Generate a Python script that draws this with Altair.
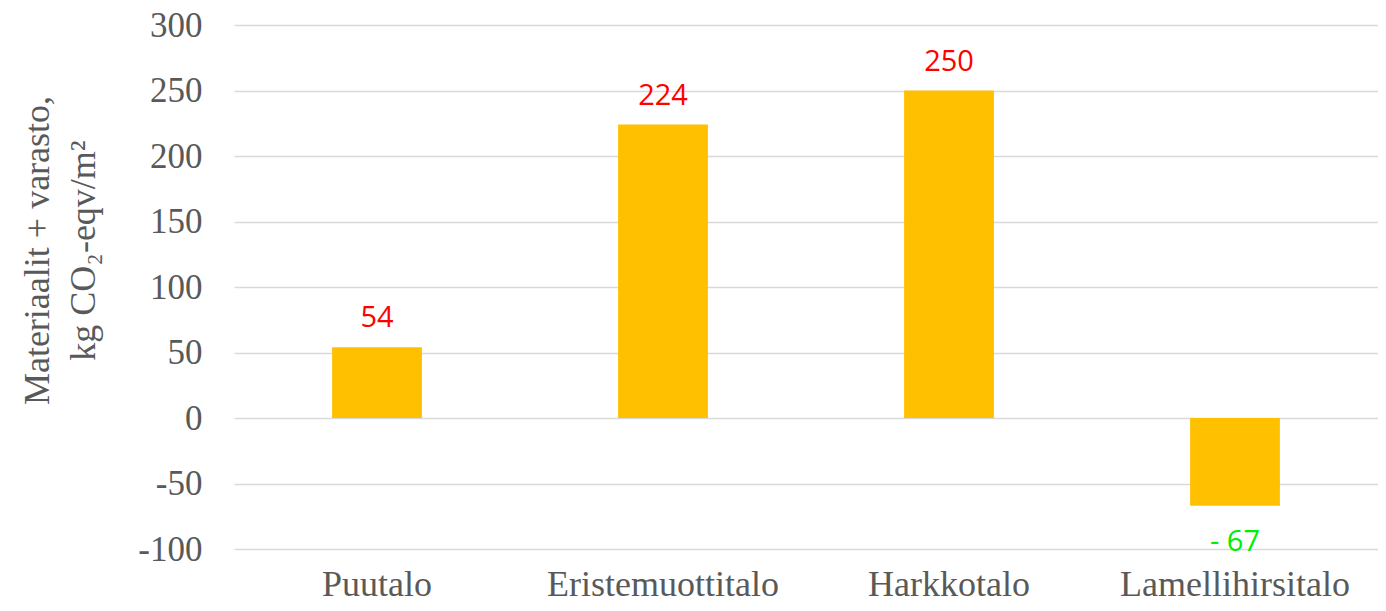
import altair as alt
import pandas as pd

categories = ["Puutalo", "Eristemuottitalo", "Harkkotalo", "Lamellihirsitalo"]
values = [54, 224, 250, -67]
labels = ["54", "224", "250", "- 67"]
y_ticks = [-100, -50, 0, 50, 100, 150, 200, 250, 300]

df = pd.DataFrame({"cat": categories, "value": values, "label": labels})

serif = "Liberation Serif"
grey = "#595959"

x_enc = alt.X(
    "cat:N",
    sort=categories,
    scale=alt.Scale(paddingInner=0.686, paddingOuter=0.343),
    axis=alt.Axis(
        title=None,
        labelAngle=0,
        labelFont=serif,
        labelFontSize=36,
        labelColor=grey,
        labelBaseline="alphabetic",
        labelPadding=46,
        labelLimit=0,
        ticks=False,
        tickSize=0,
        domain=False,
        grid=False,
    ),
)

y_enc = alt.Y(
    "value:Q",
    scale=alt.Scale(domain=[-100, 300], nice=False, zero=False),
    axis=alt.Axis(
        values=y_ticks,
        labelExpr="toString(datum.value)",
        title=["Materiaalit + varasto,", "kg CO₂-eqv/m²"],
        titleFont=serif,
        titleFontSize=36,
        titleFontWeight="normal",
        titleColor=grey,
        titleLineHeight=46,
        titleBaseline="alphabetic",
        titleAngle=270,
        titleX=-186,
        titleY=225,
        labelFont=serif,
        labelFontSize=35,
        labelColor=grey,
        labelPadding=32,
        ticks=False,
        tickSize=0,
        domain=False,
        grid=True,
        gridColor="#d9d9d9",
        gridWidth=1.3,
    ),
)

base = alt.Chart(df)

bars = base.mark_bar(color="#FFC000").encode(x=x_enc, y=y_enc)

pos_text = (
    base.transform_filter("datum.value >= 0")
    .mark_text(font="Open Sans", fontSize=29, color="#FF0000", baseline="alphabetic", dy=-20)
    .encode(x=alt.X("cat:N", sort=categories), y=alt.Y("value:Q"), text="label:N")
)

neg_text = (
    base.transform_filter("datum.value < 0")
    .mark_text(font="Open Sans", fontSize=29, color="#00EE00", baseline="alphabetic", dy=45)
    .encode(x=alt.X("cat:N", sort=categories), y=alt.Y("value:Q"), text="label:N")
)

chart = (
    alt.layer(bars, pos_text, neg_text)
    .properties(
        width=1144,
        height=524,
        autosize=alt.AutoSizeParams(type="none"),
        padding={"left": 226, "top": 17, "right": 0, "bottom": 54},
        background="white",
    )
    .configure_view(stroke=None)
)

chart.save("out.html", embed_options={"renderer": "svg", "actions": False})
